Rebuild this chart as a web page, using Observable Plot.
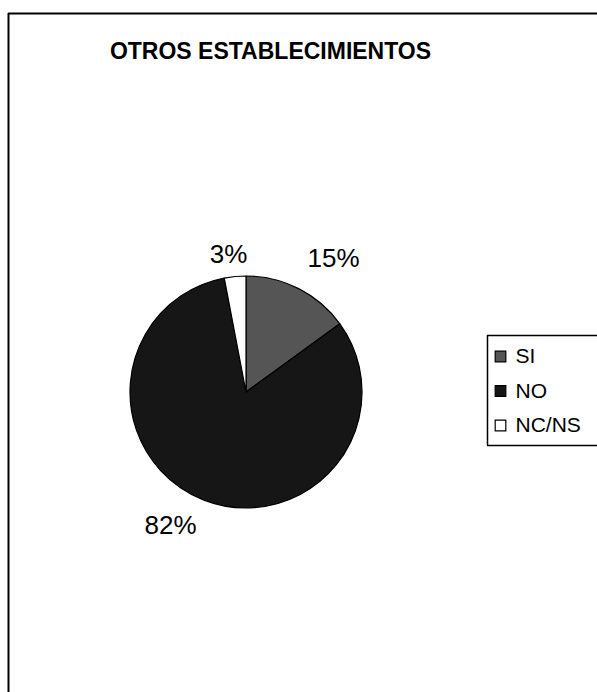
<!DOCTYPE html>
<html>
<head>
<meta charset="utf-8">
<script src="https://cdn.jsdelivr.net/npm/d3@7"></script>
<script src="https://cdn.jsdelivr.net/npm/@observablehq/plot@0.6"></script>
<style>
  html, body { margin: 0; padding: 0; background: #fff; overflow: hidden; }
  #chart svg { display: block; }
</style>
</head>
<body>
<div id="chart"></div>
<script>
// ---- data ----
const categories = ["SI", "NO", "NC/NS"];
const values = [15, 82, 3];
const valueLabels = ["15%", "82%", "3%"];
const title = "OTROS ESTABLECIMIENTOS";

// ---- layout / style (kept out of the data arrays) ----
const W = 597, H = 692;
const FONT = "'Liberation Sans', Arial, Helvetica, sans-serif";
const colors = ["#555555", "#161616", "#ffffff"];
const pie = {cx: 246, cy: 392, r: 116};
const labelAnchors = [{x: 333, y: 258}, {x: 170, y: 525}, {x: 228, y: 254}];
const legend = {x0: 487, y0: 335, y1: 445, swatchX: 500, textX: 515, rowY0: 356, rowStep: 34.5};
const frame = {x: 8, y: 13};

const data = categories.map((category, i) => ({category, value: values[i], label: valueLabels[i]}));
const arcs = d3.pie().sort(null).value(d => d.value)(data);
const labelData = data.map((d, i) => ({...d, ...labelAnchors[i]}));
const legendData = categories.map((category, i) => ({category, x: legend.swatchX, tx: legend.textX, y: legend.rowY0 + i * legend.rowStep}));

function pieMark(index, scales) {
  const cx = scales.x(pie.cx), cy = scales.y(pie.cy);
  const r = Math.abs(scales.x(pie.cx + pie.r) - cx);
  const colorOf = scales.color || (c => colors[categories.indexOf(c)]);
  const arc = d3.arc().innerRadius(0).outerRadius(r);
  const g = d3.create("svg:g").attr("transform", `translate(${cx},${cy})`);
  g.selectAll("path")
    .data(arcs)
    .join("path")
    .attr("d", arc)
    .attr("fill", d => colorOf(d.data.category))
    .attr("stroke", "#000")
    .attr("stroke-width", 1.2)
    .attr("stroke-linejoin", "round");
  return g.node();
}

const chart = Plot.plot({
  width: W,
  height: H,
  margin: 0,
  style: {fontFamily: FONT, background: "#fff", color: "#000"},
  x: {domain: [0, W], range: [0, W], axis: null},
  y: {domain: [0, H], range: [0, H], axis: null},
  color: {type: "ordinal", domain: categories, range: colors},
  marks: [
    // outer chart frame (top and left edges visible)
    Plot.ruleY([frame.y], {x1: frame.x, x2: W, stroke: "#000", strokeWidth: 2}),
    Plot.ruleX([frame.x], {y1: frame.y, y2: H, stroke: "#000", strokeWidth: 2}),
    // title
    Plot.text([title], {x: 270, y: 51, text: d => d, fontSize: 23, fontWeight: "bold", fill: "#000", textAnchor: "middle"}),
    // pie
    pieMark,
    // percentage labels
    Plot.text(labelData, {x: "x", y: "y", text: "label", fontSize: 26, fill: "#000", textAnchor: "middle"}),
    // legend box
    Plot.ruleY([legend.y0, legend.y1], {x1: legend.x0, x2: W, stroke: "#000", strokeWidth: 1.5}),
    Plot.ruleX([legend.x0], {y1: legend.y0, y2: legend.y1, stroke: "#000", strokeWidth: 1.5}),
    // legend swatches + text
    Plot.dot(legendData, {x: "x", y: "y", fill: "category", stroke: "#000", strokeWidth: 1.2, symbol: "square", r: 6}),
    Plot.text(legendData, {x: "tx", y: "y", text: "category", fontSize: 21, fill: "#000", textAnchor: "start"})
  ]
});

document.getElementById("chart").appendChild(chart);
</script>
</body>
</html>
